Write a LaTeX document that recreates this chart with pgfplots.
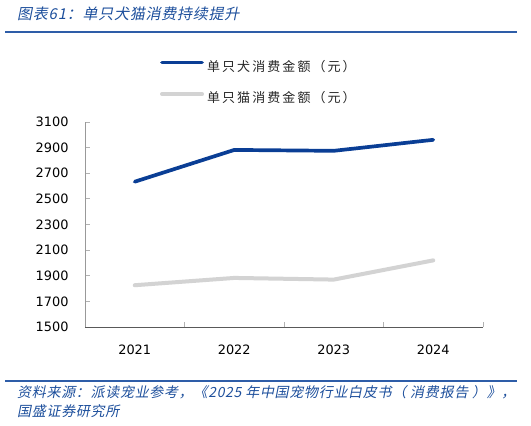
\documentclass[border=0pt]{standalone}
\usepackage{fontspec}
\setmainfont{DejaVu Sans}
\newfontfamily\cjk{Noto Sans CJK SC}
\newfontfamily\cjkleg[LetterSpace=16]{Noto Sans CJK SC}
\newfontfamily\cjkit[FakeSlant=0.2, LetterSpace=5]{Noto Sans CJK SC}
\usepackage{pgfplots}
\pgfplotsset{compat=1.18}

\definecolor{dogblue}{HTML}{0A3E95}
\definecolor{catgray}{HTML}{D3D3D3}
\definecolor{titleblue}{HTML}{1D4F9C}
\definecolor{rule}{HTML}{2E5DA8}

\begin{document}
\begin{tikzpicture}
\path[use as bounding box] (0,0) rectangle (531bp,426bp);

\begin{axis}[
  at={(85bp,99bp)}, anchor=south west,
  scale only axis, width=398bp, height=205bp,
  xmin=-0.5, xmax=3.5, ymin=1500, ymax=3100,
  ytick={1500,1700,...,3100},
  xtick={-0.5,0.5,1.5,2.5,3.5},
  xticklabels={2021,2022,2023,2024},
  x tick label as interval,
  axis x line*=bottom, axis y line*=left,
  x axis line style={-, draw=black!65, line width=0.9bp},
  y axis line style={-, draw=black!40, line width=0.9bp},
  tick align=inside, major tick length=5bp,
  tick style={draw=black!30, line width=0.9bp},
  tick label style={font=\fontsize{12.9bp}{15bp}\selectfont, text=black},
  yticklabel style={xshift=-13bp},
  xticklabel style={yshift=-14bp},
  /pgf/number format/assume math mode=true,
  /pgf/number format/1000 sep={},
  legend style={at={(axis description cs:0.188,1.30)}, anchor=north west,
    draw=none, fill=none, inner sep=0pt, row sep=19bp,
    font=\cjkleg\fontsize{13bp}{15bp}\selectfont, text=black!85,
    nodes={inner sep=0pt, text height=10bp, text depth=2bp}},
  legend cell align=left,
  legend image code/.code={\draw[#1] (0bp,4.5bp) -- (40bp,4.5bp);},
]
\addplot[dogblue, line width=3.7bp, line join=round, line cap=round]
  coordinates {(0,2634) (1,2882) (2,2875) (3,2961)};
\addlegendentry{\hspace{3bp}单只犬消费金额（元）}
\addplot[catgray, line width=4bp, line join=round, line cap=round]
  coordinates {(0,1826) (1,1883) (2,1870) (3,2020)};
\addlegendentry{\hspace{3bp}单只猫消费金额（元）}
\end{axis}

\node[anchor=west, inner sep=0pt, text=titleblue] at (17bp,412bp)
  {\cjkit\fontsize{15bp}{18bp}\selectfont 图表61：单只犬猫消费持续提升};
\draw[rule, line width=1.6bp] (5bp,394bp) -- (517bp,394bp);
\draw[rule, line width=1.6bp] (5bp,45bp) -- (517bp,45bp);
\node[anchor=west, inner sep=0pt, text=titleblue] at (17bp,34bp)
  {\cjkit\fontsize{14bp}{17bp}\selectfont 资料来源：派读宠业参考，《2025 年中国宠物行业白皮书（ 消费报告 ）》，};
\node[anchor=west, inner sep=0pt, text=titleblue] at (17bp,15bp)
  {\cjkit\fontsize{14bp}{17bp}\selectfont 国盛证券研究所};
\end{tikzpicture}
\end{document}
